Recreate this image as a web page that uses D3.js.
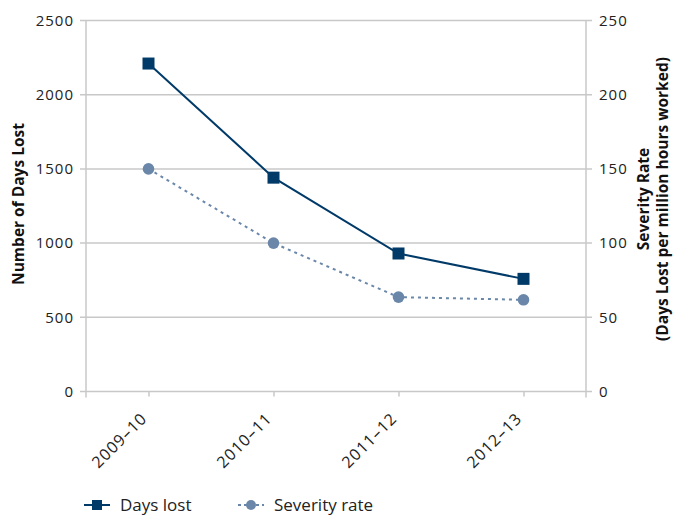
<!DOCTYPE html>
<html>
<head>
<meta charset="utf-8">
<script src="https://cdn.jsdelivr.net/npm/d3@7"></script>
<style>
  html, body { margin: 0; padding: 0; background: #fff; }
  svg { display: block; }
  .tick text { font-family: "Open Sans", "Noto Sans", sans-serif; }
</style>
</head>
<body>
<svg id="chart" width="674" height="515"></svg>
<script>
// Lost-time figures by financial year
const years = ["2009–10", "2010–11", "2011–12", "2012–13"];
const daysLost = [2210, 1441, 930, 759];
const severityRate = [150, 100, 63.6, 61.8];
const leftTicks = [0, 500, 1000, 1500, 2000, 2500];
const rightTicks = [0, 50, 100, 150, 200, 250];

const navy = "#003a68";
const slate = "#6a87aa";
const grid = "#c8c8c8";
const textFont = "'Open Sans', 'Noto Sans', sans-serif";

const svg = d3.select("#chart");
const m = { left: 86, right: 586, top: 20.5, bottom: 391.5 };

const x = d3.scalePoint().domain(years).range([m.left, m.right]).padding(0.5);
const yL = d3.scaleLinear().domain([0, 2500]).range([m.bottom, m.top]);
const yR = d3.scaleLinear().domain([0, 250]).range([m.bottom, m.top]);

// horizontal gridlines
svg.append("g")
  .selectAll("line")
  .data(leftTicks)
  .join("line")
  .attr("x1", m.left - 6).attr("x2", m.right + 6)
  .attr("y1", d => yL(d)).attr("y2", d => yL(d))
  .attr("stroke", grid).attr("stroke-width", 1.5);

// vertical frame lines
svg.append("line").attr("x1", m.left).attr("x2", m.left)
  .attr("y1", m.top).attr("y2", m.bottom + 6)
  .attr("stroke", grid).attr("stroke-width", 1.5);
svg.append("line").attr("x1", m.right).attr("x2", m.right)
  .attr("y1", m.top).attr("y2", m.bottom + 6)
  .attr("stroke", grid).attr("stroke-width", 1.5);

// left axis labels
const leftAxis = svg.append("g")
  .attr("transform", `translate(${m.left},0)`)
  .call(d3.axisLeft(yL).tickValues(leftTicks).tickFormat(d3.format("d")).tickSize(0).tickPadding(12));
leftAxis.select(".domain").remove();
leftAxis.selectAll("text").attr("font-size", 15).attr("letter-spacing", 1).attr("fill", "#222");

// right axis labels
const rightAxis = svg.append("g")
  .attr("transform", `translate(${m.right},0)`)
  .call(d3.axisRight(yR).tickValues(rightTicks).tickFormat(d3.format("d")).tickSize(0).tickPadding(13));
rightAxis.select(".domain").remove();
rightAxis.selectAll("text").attr("font-size", 15).attr("letter-spacing", 1).attr("fill", "#222");

// category axis
const xAxis = svg.append("g")
  .attr("transform", `translate(0,${m.bottom})`)
  .call(d3.axisBottom(x).tickSize(5));
xAxis.select(".domain").remove();
xAxis.selectAll(".tick line").attr("stroke", grid).attr("stroke-width", 1.5);
xAxis.selectAll("text")
  .attr("x", 0).attr("y", 0).attr("dx", 0).attr("dy", 0)
  .attr("font-size", 16).attr("letter-spacing", 1).attr("fill", "#222")
  .attr("text-anchor", "end")
  .attr("transform", "translate(-1,28) rotate(-45)");

// axis titles
svg.append("text")
  .attr("transform", `translate(24,204) rotate(-90)`)
  .attr("text-anchor", "middle")
  .attr("font-family", textFont).attr("font-weight", "bold")
  .attr("font-size", 15.5).attr("fill", "#111")
  .text("Number of Days Lost");

const rt = svg.append("text")
  .attr("transform", `translate(649,199) rotate(-90)`)
  .attr("text-anchor", "middle")
  .attr("font-family", textFont).attr("font-weight", "bold")
  .attr("font-size", 15.5).attr("fill", "#111");
rt.append("tspan").attr("x", 0).attr("dy", 0).text("Severity Rate");
rt.append("tspan").attr("x", 0).attr("dy", 18.5).text("(Days Lost per million hours worked)");

// severity rate series (dotted, circles)
svg.append("path")
  .datum(severityRate)
  .attr("fill", "none").attr("stroke", slate).attr("stroke-width", 2)
  .attr("stroke-dasharray", "3,4")
  .attr("d", d3.line().x((d, i) => x(years[i])).y(d => yR(d)));
svg.append("g").selectAll("circle")
  .data(severityRate)
  .join("circle")
  .attr("cx", (d, i) => x(years[i])).attr("cy", d => yR(d))
  .attr("r", 5.8).attr("fill", slate);

// days lost series (solid, squares)
svg.append("path")
  .datum(daysLost)
  .attr("fill", "none").attr("stroke", navy).attr("stroke-width", 2)
  .attr("d", d3.line().x((d, i) => x(years[i])).y(d => yL(d)));
svg.append("g").selectAll("rect")
  .data(daysLost)
  .join("rect")
  .attr("x", (d, i) => x(years[i]) - 6).attr("y", d => yL(d) - 6)
  .attr("width", 12).attr("height", 12).attr("fill", navy);

// legend
const lg = svg.append("g").attr("transform", "translate(0,505)");
lg.append("line").attr("x1", 84).attr("x2", 110).attr("y1", 0).attr("y2", 0)
  .attr("stroke", navy).attr("stroke-width", 2);
lg.append("rect").attr("x", 92).attr("y", -5).attr("width", 10).attr("height", 10).attr("fill", navy);
lg.append("text").attr("x", 120).attr("y", 0).attr("dy", "0.33em")
  .attr("font-family", textFont).attr("font-size", 17).attr("fill", "#222")
  .text("Days lost");

lg.append("line").attr("x1", 238).attr("x2", 264).attr("y1", 0).attr("y2", 0)
  .attr("stroke", slate).attr("stroke-width", 2).attr("stroke-dasharray", "3,3");
lg.append("circle").attr("cx", 251).attr("cy", 0).attr("r", 5).attr("fill", slate);
lg.append("text").attr("x", 274).attr("y", 0).attr("dy", "0.33em")
  .attr("font-family", textFont).attr("font-size", 17).attr("fill", "#222")
  .text("Severity rate");
</script>
</body>
</html>
